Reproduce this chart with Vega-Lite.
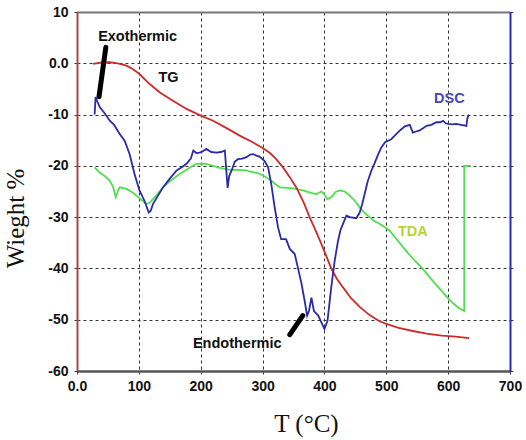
{
  "$schema": "https://vega.github.io/schema/vega-lite/v6.json",
  "autosize": {"type": "none"},
  "padding": {"left": 77, "top": 12, "right": 16, "bottom": 69},
  "width": 433,
  "height": 359,
  "background": "white",
  "config": {
    "view": {"stroke": null},
    "axis": {"labelFont": "Liberation Sans", "labelFontWeight": "bold", "labelFontSize": 14, "labelColor": "#111", "labelFlush": false, "labelOverlap": false, "titleFont": "Liberation Serif", "titleFontWeight": "normal", "titleColor": "#111"}
  },
  "datasets": {
    "curves": [
      {"series":"TDA","i":1,"T":28.5,"W":-20.3},{"series":"TDA","i":2,"T":36.7,"W":-21.3},{"series":"TDA","i":3,"T":45,"W":-22.0},{"series":"TDA","i":4,"T":53,"W":-22.9},{"series":"TDA","i":5,"T":58,"W":-24.0},{"series":"TDA","i":6,"T":62.6,"W":-26.1},{"series":"TDA","i":7,"T":66,"W":-25.0},{"series":"TDA","i":8,"T":69,"W":-24.2},{"series":"TDA","i":9,"T":80,"W":-24.5},{"series":"TDA","i":10,"T":90,"W":-25.2},{"series":"TDA","i":11,"T":96,"W":-25.8},{"series":"TDA","i":12,"T":104,"W":-26.6},{"series":"TDA","i":13,"T":112,"W":-27.4},{"series":"TDA","i":14,"T":117.5,"W":-27.2},{"series":"TDA","i":15,"T":125,"W":-26.2},{"series":"TDA","i":16,"T":139,"W":-24.2},{"series":"TDA","i":17,"T":150,"W":-23.0},{"series":"TDA","i":18,"T":166,"W":-21.6},{"series":"TDA","i":19,"T":180,"W":-20.5},{"series":"TDA","i":20,"T":193,"W":-19.6},{"series":"TDA","i":21,"T":209,"W":-19.6},{"series":"TDA","i":22,"T":220,"W":-20.0},{"series":"TDA","i":23,"T":231,"W":-20.4},{"series":"TDA","i":24,"T":247,"W":-20.8},{"series":"TDA","i":25,"T":260,"W":-20.8},{"series":"TDA","i":26,"T":274,"W":-20.9},{"series":"TDA","i":27,"T":279,"W":-21.1},{"series":"TDA","i":28,"T":295,"W":-21.5},{"series":"TDA","i":29,"T":311,"W":-22.6},{"series":"TDA","i":30,"T":320,"W":-23.5},{"series":"TDA","i":31,"T":328,"W":-24.2},{"series":"TDA","i":32,"T":340,"W":-24.3},{"series":"TDA","i":33,"T":349,"W":-24.4},{"series":"TDA","i":34,"T":365,"W":-24.8},{"series":"TDA","i":35,"T":380,"W":-25.3},{"series":"TDA","i":36,"T":387,"W":-25.5},{"series":"TDA","i":37,"T":395,"W":-25.0},{"series":"TDA","i":38,"T":398,"W":-25.3},{"series":"TDA","i":39,"T":405,"W":-26.5},{"series":"TDA","i":40,"T":412,"W":-26.0},{"series":"TDA","i":41,"T":418,"W":-25.1},{"series":"TDA","i":42,"T":425,"W":-24.8},{"series":"TDA","i":43,"T":433,"W":-25.0},{"series":"TDA","i":44,"T":441,"W":-25.8},{"series":"TDA","i":45,"T":449,"W":-26.8},{"series":"TDA","i":46,"T":457,"W":-28.1},{"series":"TDA","i":47,"T":465,"W":-29.2},{"series":"TDA","i":48,"T":473,"W":-30.0},{"series":"TDA","i":49,"T":481,"W":-30.8},{"series":"TDA","i":50,"T":489,"W":-31.3},{"series":"TDA","i":51,"T":497,"W":-31.9},{"series":"TDA","i":52,"T":505,"W":-32.6},{"series":"TDA","i":53,"T":520,"W":-34.8},{"series":"TDA","i":54,"T":535,"W":-37.0},{"series":"TDA","i":55,"T":547,"W":-38.6},{"series":"TDA","i":56,"T":559,"W":-40.1},{"series":"TDA","i":57,"T":572,"W":-42.0},{"series":"TDA","i":58,"T":585,"W":-43.8},{"series":"TDA","i":59,"T":599,"W":-45.7},{"series":"TDA","i":60,"T":608,"W":-46.8},{"series":"TDA","i":61,"T":617,"W":-47.7},{"series":"TDA","i":62,"T":626,"W":-48.3},{"series":"TDA","i":63,"T":626,"W":-20.0},{"series":"TDA","i":64,"T":637,"W":-20.0},
      {"series":"TG","i":1,"T":26,"W":-0.1},{"series":"TG","i":2,"T":40,"W":0.15},{"series":"TG","i":3,"T":53,"W":0.2},{"series":"TG","i":4,"T":66,"W":0.0},{"series":"TG","i":5,"T":80,"W":-0.45},{"series":"TG","i":6,"T":90,"W":-1.1},{"series":"TG","i":7,"T":100,"W":-2.0},{"series":"TG","i":8,"T":117,"W":-4.0},{"series":"TG","i":9,"T":134,"W":-5.7},{"series":"TG","i":10,"T":155,"W":-7.3},{"series":"TG","i":11,"T":177,"W":-8.9},{"series":"TG","i":12,"T":200,"W":-10.2},{"series":"TG","i":13,"T":220,"W":-11.2},{"series":"TG","i":14,"T":241,"W":-12.6},{"series":"TG","i":15,"T":263,"W":-14.1},{"series":"TG","i":16,"T":284,"W":-15.4},{"series":"TG","i":17,"T":300,"W":-16.5},{"series":"TG","i":18,"T":312,"W":-17.5},{"series":"TG","i":19,"T":322,"W":-18.7},{"series":"TG","i":20,"T":333,"W":-20.3},{"series":"TG","i":21,"T":344,"W":-22.2},{"series":"TG","i":22,"T":355,"W":-24.3},{"series":"TG","i":23,"T":366,"W":-27.0},{"series":"TG","i":24,"T":376,"W":-30.0},{"series":"TG","i":25,"T":386,"W":-32.7},{"series":"TG","i":26,"T":395,"W":-35.2},{"series":"TG","i":27,"T":403,"W":-37.6},{"series":"TG","i":28,"T":411,"W":-40.0},{"series":"TG","i":29,"T":420,"W":-42.0},{"series":"TG","i":30,"T":430,"W":-43.7},{"series":"TG","i":31,"T":443,"W":-45.8},{"series":"TG","i":32,"T":457,"W":-47.5},{"series":"TG","i":33,"T":473,"W":-49.1},{"series":"TG","i":34,"T":489,"W":-50.3},{"series":"TG","i":35,"T":500,"W":-50.8},{"series":"TG","i":36,"T":520,"W":-51.6},{"series":"TG","i":37,"T":543,"W":-52.2},{"series":"TG","i":38,"T":565,"W":-52.7},{"series":"TG","i":39,"T":590,"W":-53.1},{"series":"TG","i":40,"T":612,"W":-53.3},{"series":"TG","i":41,"T":634,"W":-53.6},
      {"series":"DSC","i":1,"T":28.5,"W":-10.0},{"series":"DSC","i":2,"T":30,"W":-6.6},{"series":"DSC","i":3,"T":33,"W":-7.5},{"series":"DSC","i":4,"T":37,"W":-8.6},{"series":"DSC","i":5,"T":45,"W":-9.8},{"series":"DSC","i":6,"T":53,"W":-11.2},{"series":"DSC","i":7,"T":60,"W":-12.0},{"series":"DSC","i":8,"T":69,"W":-13.8},{"series":"DSC","i":9,"T":77,"W":-15.1},{"series":"DSC","i":10,"T":85,"W":-17.7},{"series":"DSC","i":11,"T":93,"W":-21.6},{"series":"DSC","i":12,"T":101,"W":-24.8},{"series":"DSC","i":13,"T":109,"W":-26.8},{"series":"DSC","i":14,"T":116,"W":-29.1},{"series":"DSC","i":15,"T":119,"W":-28.8},{"series":"DSC","i":16,"T":123,"W":-27.4},{"series":"DSC","i":17,"T":131,"W":-25.8},{"series":"DSC","i":18,"T":139,"W":-24.2},{"series":"DSC","i":19,"T":150,"W":-22.5},{"series":"DSC","i":20,"T":161,"W":-20.9},{"series":"DSC","i":21,"T":170,"W":-20.2},{"series":"DSC","i":22,"T":177,"W":-19.6},{"series":"DSC","i":23,"T":184,"W":-18.6},{"series":"DSC","i":24,"T":188,"W":-17.0},{"series":"DSC","i":25,"T":193,"W":-17.5},{"series":"DSC","i":26,"T":198,"W":-17.4},{"series":"DSC","i":27,"T":203,"W":-17.2},{"series":"DSC","i":28,"T":209,"W":-16.7},{"series":"DSC","i":29,"T":217,"W":-17.3},{"series":"DSC","i":30,"T":225,"W":-17.4},{"series":"DSC","i":31,"T":233,"W":-17.3},{"series":"DSC","i":32,"T":239,"W":-17.0},{"series":"DSC","i":33,"T":241,"W":-20.3},{"series":"DSC","i":34,"T":243.5,"W":-24.3},{"series":"DSC","i":35,"T":246,"W":-22.0},{"series":"DSC","i":36,"T":250,"W":-20.9},{"series":"DSC","i":37,"T":255,"W":-19.2},{"series":"DSC","i":38,"T":260,"W":-18.7},{"series":"DSC","i":39,"T":267,"W":-18.6},{"series":"DSC","i":40,"T":274,"W":-18.3},{"series":"DSC","i":41,"T":280,"W":-17.8},{"series":"DSC","i":42,"T":285,"W":-17.7},{"series":"DSC","i":43,"T":290,"W":-18.0},{"series":"DSC","i":44,"T":295,"W":-18.2},{"series":"DSC","i":45,"T":303,"W":-19.0},{"series":"DSC","i":46,"T":309,"W":-20.3},{"series":"DSC","i":47,"T":314,"W":-23.5},{"series":"DSC","i":48,"T":319.6,"W":-28.1},{"series":"DSC","i":49,"T":325,"W":-32.0},{"series":"DSC","i":50,"T":330,"W":-34.3},{"series":"DSC","i":51,"T":338,"W":-34.3},{"series":"DSC","i":52,"T":344,"W":-36.2},{"series":"DSC","i":53,"T":352,"W":-37.2},{"series":"DSC","i":54,"T":357,"W":-39.8},{"series":"DSC","i":55,"T":363,"W":-43.0},{"series":"DSC","i":56,"T":368,"W":-46.3},{"series":"DSC","i":57,"T":372,"W":-49.2},{"series":"DSC","i":58,"T":375,"W":-48.3},{"series":"DSC","i":59,"T":379,"W":-45.7},{"series":"DSC","i":60,"T":383,"W":-48.3},{"series":"DSC","i":61,"T":390,"W":-49.2},{"series":"DSC","i":62,"T":395,"W":-50.5},{"series":"DSC","i":63,"T":400,"W":-51.8},{"series":"DSC","i":64,"T":405,"W":-50.2},{"series":"DSC","i":65,"T":411,"W":-43.7},{"series":"DSC","i":66,"T":416.6,"W":-38.5},{"series":"DSC","i":67,"T":422,"W":-34.6},{"series":"DSC","i":68,"T":426,"W":-32.5},{"series":"DSC","i":69,"T":430,"W":-31.3},{"series":"DSC","i":70,"T":435.5,"W":-29.7},{"series":"DSC","i":71,"T":441,"W":-30.0},{"series":"DSC","i":72,"T":451.6,"W":-30.2},{"series":"DSC","i":73,"T":457,"W":-29.1},{"series":"DSC","i":74,"T":461,"W":-27.5},{"series":"DSC","i":75,"T":465,"W":-25.5},{"series":"DSC","i":76,"T":470,"W":-23.0},{"series":"DSC","i":77,"T":476,"W":-20.9},{"series":"DSC","i":78,"T":481,"W":-19.5},{"series":"DSC","i":79,"T":487,"W":-17.7},{"series":"DSC","i":80,"T":492,"W":-16.4},{"series":"DSC","i":81,"T":498,"W":-15.4},{"series":"DSC","i":82,"T":508,"W":-14.8},{"series":"DSC","i":83,"T":516,"W":-13.8},{"series":"DSC","i":84,"T":523,"W":-13.0},{"series":"DSC","i":85,"T":530,"W":-12.3},{"series":"DSC","i":86,"T":538,"W":-12.0},{"series":"DSC","i":87,"T":543,"W":-13.5},{"series":"DSC","i":88,"T":548,"W":-13.3},{"series":"DSC","i":89,"T":554,"W":-13.1},{"series":"DSC","i":90,"T":560,"W":-12.6},{"series":"DSC","i":91,"T":565,"W":-12.2},{"series":"DSC","i":92,"T":573,"W":-12.0},{"series":"DSC","i":93,"T":581,"W":-11.5},{"series":"DSC","i":94,"T":587,"W":-11.5},{"series":"DSC","i":95,"T":592,"W":-11.2},{"series":"DSC","i":96,"T":596,"W":-11.7},{"series":"DSC","i":97,"T":600,"W":-11.8},{"series":"DSC","i":98,"T":607,"W":-11.9},{"series":"DSC","i":99,"T":613,"W":-11.8},{"series":"DSC","i":100,"T":621,"W":-12.0},{"series":"DSC","i":101,"T":629.5,"W":-12.2},{"series":"DSC","i":102,"T":631,"W":-10.8},{"series":"DSC","i":103,"T":633,"W":-10.0}
    ],
    "strokes": [
      {"T": 46.6, "W": 3.1, "T2": 35.6, "W2": -6.5},
      {"T": 365, "W": -49.2, "T2": 344, "W2": -52.9}
    ],
    "labels": [
      {"T": 98, "W": 5.1, "text": "Exothermic", "kind": "black"},
      {"T": 148, "W": -2.85, "text": "TG", "kind": "black"},
      {"T": 602, "W": -6.9, "text": "DSC", "kind": "blue"},
      {"T": 543, "W": -32.8, "text": "TDA", "kind": "yellow"},
      {"T": 259, "W": -54.75, "text": "Endothermic", "kind": "black"}
    ]
  },
  "resolve": {"axis": {"x": "independent", "y": "independent"}, "scale": {"color": "independent"}},
  "layer": [
    {
      "data": {"name": "curves"},
      "mark": {"type": "line", "strokeWidth": 1.8, "clip": true},
      "encoding": {
        "x": {"field": "T", "type": "quantitative", "scale": {"domain": [0, 700], "nice": false},
          "axis": {"orient": "bottom", "values": [0,100,200,300,400,500,600,700], "labelExpr": "datum.value == 0 ? '0.0' : datum.value", "grid": true, "gridColor": "#333", "gridDash": [3,3], "gridWidth": 1, "domainColor": "#555", "domainWidth": 2.5, "tickColor": "#333", "tickSize": 3, "labelPadding": 5, "title": "T (°C)", "titleFontSize": 25, "titleX": 229, "titleY": 40, "titleBaseline": "top", "titleAnchor": null}},
        "y": {"field": "W", "type": "quantitative", "scale": {"domain": [-60, 10], "nice": false},
          "axis": {"orient": "left", "values": [10,0,-10,-20,-30,-40,-50,-60], "labelExpr": "datum.value == 0 ? '0.0' : datum.value", "grid": true, "gridColor": "#333", "gridDash": [3,3], "gridWidth": 1, "domainColor": "#a84848", "domainWidth": 2, "tickColor": "#333", "tickSize": 3, "labelPadding": 6, "title": "Wieght %", "titleFontSize": 25, "titleX": -49, "titleY": 206, "titleAnchor": null}},
        "color": {"field": "series", "type": "nominal", "scale": {"domain": ["TG", "DSC", "TDA"], "range": ["#cc2b2b", "#2a2aaa", "#4fdf4f"]}, "legend": null},
        "order": {"field": "i", "type": "quantitative"}
      }
    },
    {
      "data": {"name": "strokes"},
      "mark": {"type": "rule", "strokeWidth": 5, "strokeCap": "round", "color": "#000"},
      "encoding": {
        "x": {"field": "T", "type": "quantitative", "scale": {"domain": [0, 700], "nice": false},
          "axis": {"orient": "top", "labels": false, "ticks": false, "grid": false, "title": null, "domainColor": "#777", "domainWidth": 2}},
        "y": {"field": "W", "type": "quantitative", "scale": {"domain": [-60, 10], "nice": false},
          "axis": {"orient": "right", "values": [10,0,-10,-20,-30,-40,-50,-60], "labels": false, "grid": false, "title": null, "domainColor": "#2a2ab8", "domainWidth": 2, "tickColor": "#2a2ab8", "tickSize": 3}},
        "x2": {"field": "T2"},
        "y2": {"field": "W2"}
      }
    },
    {
      "data": {"name": "labels"},
      "mark": {"type": "text", "font": "Liberation Sans", "fontWeight": "bold", "fontSize": 14.5, "baseline": "middle", "align": "center"},
      "encoding": {
        "x": {"field": "T", "type": "quantitative", "scale": {"domain": [0, 700], "nice": false}, "axis": null},
        "y": {"field": "W", "type": "quantitative", "scale": {"domain": [-60, 10], "nice": false}, "axis": null},
        "text": {"field": "text"},
        "color": {"field": "kind", "type": "nominal", "scale": {"domain": ["black", "blue", "yellow"], "range": ["#111111", "#4848b8", "#b8d432"]}, "legend": null}
      }
    }
  ]
}
